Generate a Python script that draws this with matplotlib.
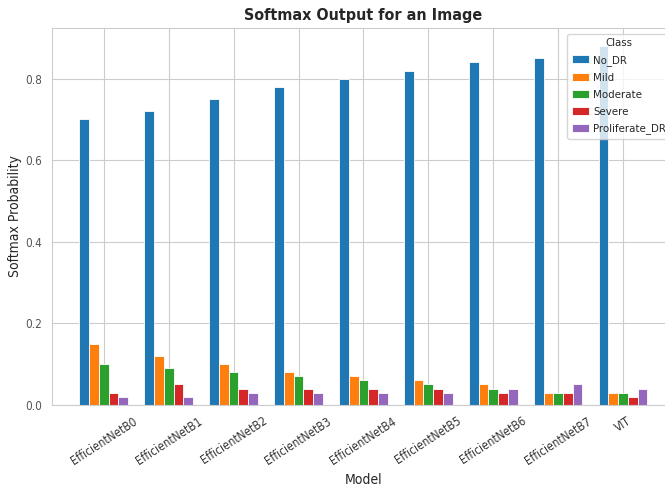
import numpy as np
import matplotlib
matplotlib.use("Agg")
import matplotlib.pyplot as plt
import seaborn as sns

# datos
modelos = ["EfficientNetB0", "EfficientNetB1", "EfficientNetB2", "EfficientNetB3",
           "EfficientNetB4", "EfficientNetB5", "EfficientNetB6", "EfficientNetB7", "VIT"]
clases = ["No_DR", "Mild", "Moderate", "Severe", "Proliferate_DR"]

no_dr = [0.70, 0.72, 0.75, 0.78, 0.80, 0.82, 0.84, 0.85, 0.88]
mild = [0.15, 0.12, 0.10, 0.08, 0.07, 0.06, 0.05, 0.03, 0.03]
moderate = [0.10, 0.09, 0.08, 0.07, 0.06, 0.05, 0.04, 0.03, 0.03]
severe = [0.03, 0.05, 0.04, 0.04, 0.04, 0.04, 0.03, 0.03, 0.02]
proliferate = [0.02, 0.02, 0.03, 0.03, 0.03, 0.03, 0.04, 0.05, 0.04]

series = [no_dr, mild, moderate, severe, proliferate]
colores = ["#1f77b4", "#ff7f0e", "#2ca02c", "#d62728", "#9467bd"]

sns.set_style("whitegrid")
plt.rcParams['font.family'] = ['DejaVu Sans']
plt.rcParams['font.stretch'] = 'condensed'

fig = plt.figure(figsize=(6.65, 4.86), dpi=100)
ax = fig.add_axes([0.078, 0.167, 0.937, 0.775])

x = np.arange(len(modelos))
ancho = 0.15
for i, (vals, clase, col) in enumerate(zip(series, clases, colores)):
    ax.bar(x + (i - 2) * ancho, vals, width=ancho, color=col, label=clase,
           edgecolor='white', linewidth=0.6, zorder=2)

ax.set_xticks(x)
ax.set_xticklabels(modelos, rotation=33, fontsize=8.5)
ax.set_xlim(-0.8, 8.8)
ax.set_ylim(0, 0.924)
ax.set_yticks([0.0, 0.2, 0.4, 0.6, 0.8])
ax.tick_params(axis='y', labelsize=8.5, colors='#555555')
ax.tick_params(axis='x', colors='#333333')

ax.set_xlabel("Model", fontsize=10)
ax.set_ylabel("Softmax Probability", fontsize=10, labelpad=2)
ax.set_title("Softmax Output for an Image", fontsize=11.5, fontweight='bold')

ax.legend(title="Class", loc='upper left', bbox_to_anchor=(0.818, 1.0),
          fontsize=8.2, title_fontsize=8.2, frameon=True, labelspacing=0.6,
          handlelength=1.5, handletextpad=0.4, borderpad=0.4)

plt.savefig("out.png", dpi=100)
